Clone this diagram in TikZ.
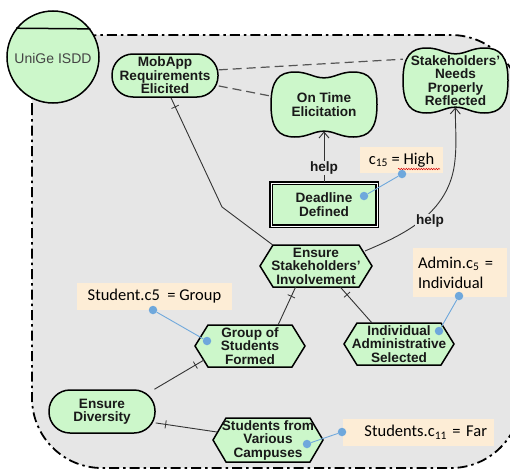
\documentclass[tikz,border=0pt]{standalone}
\usepackage{fontspec}
\setmainfont{Liberation Sans}
\newfontfamily\calib{Carlito}
\usetikzlibrary{shapes.misc,arrows.meta,decorations.markings,decorations.pathmorphing,calc}
\definecolor{goalgreen}{HTML}{CCF7CA}
\definecolor{bggray}{HTML}{E6E6E6}
\definecolor{notepeach}{HTML}{FDEDD6}
\definecolor{dotblue}{HTML}{6FA8DC}
\definecolor{linkgray}{HTML}{333333}
\definecolor{dashgray}{HTML}{555555}
\definecolor{actortext}{HTML}{444444}
\tikzset{
  ntext/.style={font=\fontsize{13.6}{13.5}\selectfont\bfseries, align=center, inner sep=0pt, text=black!90},
  elem/.style={draw=black, line width=1.5pt, fill=goalgreen},
  goalbox/.style={elem, rectangle, rounded corners=21pt, minimum width=106pt, minimum height=43pt, inner sep=0pt},
  taskbox/.style={elem, rectangle, minimum width=106pt, minimum height=43pt, inner sep=0pt, line width=1.1pt, double=white, double distance=1pt},
  boundary/.style={draw=black, line width=1.8pt, fill=bggray, rounded corners=70pt, dash pattern=on 10pt off 4pt on 2.5pt off 4pt},
  link/.style={draw=linkgray, line width=0.9pt},
  dashlink/.style={draw=dashgray, line width=1.2pt, dash pattern=on 9pt off 5pt},
  tickstart/.style={postaction={decorate, decoration={markings, mark=at position 10pt with {\draw[linkgray, line width=0.8pt] (0pt,-4pt) -- (0pt,4pt);}}}},
  arrowtip/.style={-{Straight Barb[length=6pt,width=10pt]}},
  helplbl/.style={font=\fontsize{13.6}{14}\selectfont\bfseries, fill=bggray, inner sep=1pt, text=black!90},
  notebox/.style={fill=notepeach, inner sep=0pt, font=\calib\fontsize{16.5}{20}\selectfont},
  bdot/.style={circle, fill=dotblue, minimum size=8.5pt, inner sep=0pt},
  bline/.style={draw=dotblue, line width=0.9pt}
}
\newcommand{\softgoal}[6]{%
  \begin{scope}[shift={(#2,#3)}]
    \draw[elem] ({-#4},0)
      .. controls ({-#4},{-0.75*#5}) and ({-0.85*#4},{-#5}) .. ({-0.55*#4},{-#5})
      .. controls ({-0.3*#4},{-#5}) and ({-0.2*#4},{-0.82*#5}) .. (0,{-0.82*#5})
      .. controls ({0.2*#4},{-0.82*#5}) and ({0.3*#4},{-#5}) .. ({0.55*#4},{-#5})
      .. controls ({0.85*#4},{-#5}) and ({#4},{-0.75*#5}) .. ({#4},0)
      .. controls ({#4},{0.75*#5}) and ({0.85*#4},{#5}) .. ({0.55*#4},{#5})
      .. controls ({0.3*#4},{#5}) and ({0.2*#4},{0.82*#5}) .. (0,{0.82*#5})
      .. controls ({-0.2*#4},{0.82*#5}) and ({-0.3*#4},{#5}) .. ({-0.55*#4},{#5})
      .. controls ({-0.85*#4},{#5}) and ({-#4},{0.75*#5}) .. cycle;
  \end{scope}
  \node[minimum width={2*#4pt}, minimum height={1.64*#5pt}, inner sep=0pt, label={[ntext]center:{#6}}] (#1) at (#2,#3) {};
}
\newcommand{\taskhex}[6]{%
  \begin{scope}[shift={(#2,#3)}]
    \draw[elem, line join=miter] ({-#4},0) -- ({-#4+13},{-#5}) -- ({#4-13},{-#5}) -- ({#4},0) -- ({#4-13},{#5}) -- ({-#4+13},{#5}) -- cycle;
  \end{scope}
  \node[minimum width={2*#4pt}, minimum height={2*#5pt}, inner sep=0pt, label={[ntext]center:{#6}}] (#1) at (#2,#3) {};
}
\begin{document}
\begin{tikzpicture}[x=1pt,y=-1pt]
\useasboundingbox (0,0) rectangle (510,471);
\begin{scope}
  \clip (0,0) rectangle (510,471);
  \draw[boundary] (32,35) rectangle (521,468);
\end{scope}
% actor
\node[elem, circle, minimum size=92pt, inner sep=0pt] (actor) at (53,57) {};
\draw[line width=1.5pt] (actor.142.5) -- (actor.37.5);
\node[font=\fontsize{14}{14}\selectfont, text=actortext] (actorlbl) at (53,58) {UniGe ISDD};
% elements
\node[goalbox, label={[ntext]center:{MobApp\\Requirements\\Elicited}}] (MRE) at (165,75.5) {};
\softgoal{OTE}{324}{104.5}{53}{32.5}{On Time\\Elicitation}
\softgoal{SNPR}{455.5}{80.5}{52.5}{32.5}{Stakeholders'\\Needs\\Properly\\Reflected}
\node[taskbox, label={[ntext]center:{Deadline\\Defined}}] (DD) at (324,204.5) {};
\taskhex{ESI}{316}{266}{56}{21}{Ensure\\Stakeholders'\\Involvement}
\taskhex{GSF}{250}{346}{55}{21}{Group of\\Students\\Formed}
\taskhex{IAS}{399}{344}{55}{21}{Individual\\Administrative\\Selected}
\node[goalbox, label={[ntext]center:{Ensure\\Diversity}}] (ED) at (102,411.5) {};
\taskhex{SVC}{268}{440}{55}{22}{Students from\\Various\\Campuses}
% connectors
\coordinate (bend1) at (222,207);
\coordinate (helpmid) at (455,160);
\draw[link, tickstart] (MRE.-75) -- (bend1) -- (ESI.154);
\draw[link, tickstart] (ESI.-134) -- (GSF.37);
\draw[link, tickstart] (ESI.-41) -- (IAS.142);
\draw[link, tickstart] ($(GSF.center)+(-46,14)$) -- (ED.23);
\draw[link, tickstart] (ED.-12) -- ($(SVC.center)+(-51,-8)$);
\draw[link, arrowtip] (DD.north) -- (OTE.south);
\draw[link, arrowtip] ($(ESI.center)+(49,-15)$) .. controls (400,236) and (450,215) .. (helpmid) .. controls (457,140) and (455,125) .. (SNPR.south);
\draw[dashlink] (MRE.6) -- (SNPR.158);
\draw[dashlink] (MRE.-11) -- (OTE.171);
\node[helplbl] (h1) at (324,168) {help};
\node[helplbl] (h2) at (430,221) {help};
% notes
\node[notebox, minimum width=83pt, minimum height=26pt] (n15) at (401.5,160) {c\textsubscript{15} = High};
\draw[red!85!black, line width=0.5pt, decorate, decoration={snake, amplitude=0.7pt, segment length=2.5pt}] (398,169) -- (440,169);
\node[notebox, minimum width=94pt, minimum height=49pt, text width=84pt, align=left] (nadm) at (460,272.5) {Admin.c\textsubscript{5} =\\Individual};
\node[notebox, minimum width=155pt, minimum height=27pt] (nstu) at (154.5,296.5) {Student.c5~ = Group};
\node[notebox, minimum width=151pt, minimum height=27pt, text width=137pt, align=right] (nsvc) at (418.5,432) {Students.c\textsubscript{11} = Far};
% dots
\node[bdot] (d1a) at (402,174) {};
\node[bdot] (d1b) at (364,196) {};
\node[bdot] (d2a) at (459,296) {};
\node[bdot] (d2b) at (439,331) {};
\node[bdot] (d3a) at (153,310) {};
\node[bdot] (d3b) at (207,341) {};
\node[bdot] (d4a) at (342,432) {};
\node[bdot] (d4b) at (307,444) {};
\draw[bline] (d1a) -- (d1b);
\draw[bline] (d2a) -- (d2b);
\draw[bline] (d3a) -- (d3b);
\draw[bline] (d4a) -- (d4b);
\end{tikzpicture}
\end{document}
